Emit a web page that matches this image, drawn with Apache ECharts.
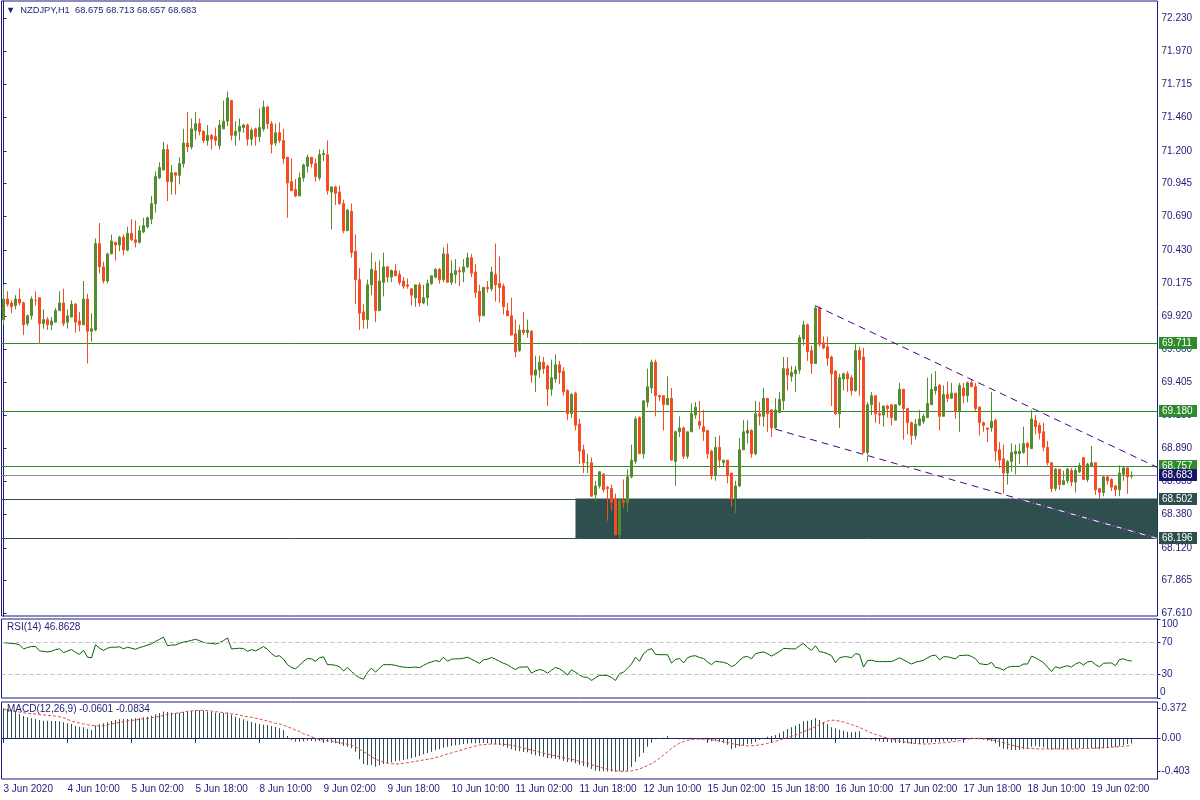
<!DOCTYPE html>
<html><head><meta charset="utf-8">
<script src="https://cdn.jsdelivr.net/npm/echarts@6/dist/echarts.min.js"></script>
<style>html,body{margin:0;padding:0;background:#fff}#c{width:1200px;height:800px}</style>
</head><body><div id="c"></div>
<script>
const symbolName = 'NZDJPY,H1';
const timeLabels = ['3 Jun 2020','4 Jun 10:00','5 Jun 02:00','5 Jun 18:00','8 Jun 10:00','9 Jun 02:00','9 Jun 18:00','10 Jun 10:00','11 Jun 02:00','11 Jun 18:00','12 Jun 10:00','15 Jun 02:00','15 Jun 18:00','16 Jun 10:00','17 Jun 02:00','17 Jun 18:00','18 Jun 10:00','19 Jun 02:00'];
const priceTicks = [72.230,71.970,71.715,71.460,71.200,70.945,70.690,70.430,70.175,69.920,69.660,69.405,69.150,68.890,68.635,68.380,68.120,67.865,67.610];
const rsiTicks = [30,70,100];
const rsiBottomLabel = '0';
const macdTicks = [-0.403,0,0.372];

const openP = [
69.89,70.05,70.02,70.00,70.05,70.02,69.86,69.92,70.04,70.06,
69.86,69.89,69.85,69.87,69.96,70.02,69.87,69.91,70.01,69.88,
69.85,70.05,69.80,69.81,70.48,70.30,70.19,70.40,70.49,70.47,
70.53,70.43,70.56,70.51,70.49,70.57,70.61,70.67,70.79,70.99,
71.05,71.21,70.96,71.03,71.01,71.10,71.26,71.23,71.36,71.41,
71.35,71.28,71.32,71.31,71.24,71.37,71.43,71.59,71.32,71.35,
71.38,71.40,71.29,71.37,71.31,71.37,71.54,71.41,71.26,71.34,
71.28,71.15,70.96,70.90,70.85,70.99,71.08,71.15,71.10,70.99,
71.17,71.17,70.88,70.92,70.88,70.79,70.58,70.73,70.42,70.20,
69.95,69.89,70.16,70.27,69.96,70.18,70.30,70.22,70.27,70.24,
70.19,70.16,70.13,70.06,70.16,70.02,70.06,70.17,70.22,70.28,
70.20,70.40,70.18,70.24,70.27,70.26,70.30,70.37,70.26,70.11,
69.92,70.14,70.13,70.24,70.17,70.15,69.96,69.92,69.78,69.65,
69.81,69.79,69.80,69.46,69.50,69.56,69.53,69.35,69.43,69.54,
69.49,69.34,69.16,69.32,69.08,68.88,68.78,68.78,68.53,68.60,
68.69,68.59,68.58,68.50,68.22,68.49,68.47,68.67,68.79,69.13,
68.85,69.25,69.36,69.56,69.30,69.30,69.23,69.28,68.79,69.02,
69.05,68.83,69.02,69.15,69.10,69.06,69.03,68.87,68.68,68.90,
68.78,68.80,68.70,68.50,68.60,68.88,69.01,69.03,68.85,69.16,
69.14,69.28,69.19,69.05,69.17,69.26,69.51,69.45,69.47,69.50,
69.74,69.85,69.65,69.55,69.98,69.71,69.68,69.60,69.49,69.16,
69.43,69.47,69.44,69.34,69.65,69.60,68.86,69.23,69.30,69.16,
69.15,69.22,69.23,69.11,69.23,69.35,69.20,69.09,68.99,69.07,
69.10,69.13,69.23,69.34,69.38,69.14,69.31,69.28,69.32,69.18,
69.36,69.30,69.40,69.37,69.21,69.09,69.05,69.05,69.11,68.88,
68.81,68.70,68.79,68.85,68.85,68.86,68.93,68.89,69.11,69.07,
69.02,68.90,68.78,68.58,68.73,68.61,68.64,68.72,68.63,68.71,
68.82,68.65,68.75,68.78,68.58,68.55,68.67,68.65,68.60,68.57,
68.69,68.74,68.675];
const highP = [
70.16,70.11,70.04,70.08,70.13,70.03,69.93,70.07,70.11,70.06,
69.97,69.91,69.91,69.98,70.11,70.13,69.97,70.04,70.02,69.95,
70.19,70.09,69.94,70.52,70.64,70.34,70.41,70.55,70.49,70.54,
70.55,70.61,70.67,70.66,70.62,70.68,70.69,70.85,71.04,71.11,
71.27,71.25,71.09,71.03,71.15,71.37,71.50,71.45,71.50,71.45,
71.36,71.40,71.33,71.38,71.44,71.59,71.66,71.59,71.43,71.45,
71.41,71.41,71.38,71.38,71.53,71.59,71.55,71.43,71.41,71.42,
71.37,71.15,71.14,70.98,71.03,71.10,71.17,71.15,71.14,71.21,
71.21,71.28,70.92,70.93,70.93,70.82,70.75,70.79,70.55,70.29,
70.01,70.20,70.41,70.34,70.35,70.41,70.30,70.28,70.32,70.27,
70.22,70.21,70.13,70.16,70.18,70.16,70.20,70.23,70.29,70.29,
70.45,70.48,70.35,70.36,70.30,70.36,70.41,70.40,70.32,70.16,
70.14,70.19,70.30,70.48,70.38,70.17,70.02,70.06,69.89,69.85,
69.95,69.89,69.81,69.61,69.61,69.60,69.54,69.58,69.62,69.57,
69.52,69.35,69.32,69.33,69.12,68.92,68.85,68.82,68.64,68.71,
68.70,68.60,68.61,68.54,68.50,68.65,68.73,68.92,69.14,69.14,
69.26,69.51,69.58,69.58,69.31,69.30,69.45,69.36,69.03,69.14,
69.06,69.02,69.24,69.25,69.26,69.19,69.03,68.88,68.98,68.99,
68.80,68.80,68.70,68.64,68.97,69.11,69.11,69.04,69.26,69.25,
69.36,69.28,69.19,69.28,69.33,69.60,69.60,69.53,69.53,69.77,
69.88,69.86,69.69,70.00,69.99,69.76,69.76,69.61,69.50,69.47,
69.48,69.49,69.46,69.70,69.68,69.67,69.25,69.33,69.30,69.25,
69.22,69.23,69.23,69.23,69.40,69.35,69.20,69.10,69.12,69.19,
69.16,69.44,69.47,69.49,69.39,69.38,69.41,69.40,69.32,69.40,
69.40,69.41,69.43,69.40,69.22,69.10,69.05,69.33,69.12,68.94,
68.92,68.80,68.93,68.92,68.93,69.06,68.94,69.19,69.15,69.09,
69.09,68.95,68.78,68.74,68.73,68.72,68.74,68.74,68.74,68.78,
68.82,68.78,68.91,68.78,68.58,68.68,68.68,68.66,68.61,68.76,
68.75,68.74,68.713];
const lowP = [
69.85,69.99,69.94,69.97,70.00,69.77,69.84,69.89,70.00,69.70,
69.82,69.81,69.81,69.87,69.96,69.84,69.82,69.91,69.79,69.80,
69.85,69.55,69.72,69.80,70.25,70.17,70.17,70.40,70.35,70.42,
70.39,70.42,70.50,70.45,70.48,70.56,70.60,70.63,70.72,70.98,
71.05,70.81,70.86,70.86,70.94,71.07,71.19,71.21,71.29,71.32,
71.26,71.24,71.21,71.24,71.21,71.37,71.39,71.28,71.24,71.28,
71.34,71.24,71.24,71.24,71.27,71.35,71.37,71.18,71.24,71.26,
71.10,70.68,70.89,70.84,70.85,70.96,71.03,71.07,70.96,70.97,
71.12,70.86,70.59,70.78,70.78,70.56,70.58,70.37,70.01,69.81,
69.82,69.82,70.08,69.87,69.96,70.07,70.18,70.18,70.23,70.16,
70.13,70.13,70.00,69.99,69.99,70.01,70.00,70.16,70.21,70.17,
70.18,70.18,70.16,70.17,70.15,70.18,70.29,70.22,70.06,69.87,
69.92,70.10,70.11,70.03,70.02,69.93,69.92,69.77,69.60,69.64,
69.77,69.75,69.40,69.33,69.44,69.47,69.22,69.30,69.40,69.39,
69.30,69.11,69.13,69.03,68.77,68.70,68.70,68.52,68.48,68.58,
68.55,68.33,68.41,68.22,68.19,68.43,68.40,68.66,68.77,68.85,
68.81,69.21,69.32,69.14,69.26,69.03,69.23,68.80,68.60,68.98,
68.81,68.81,69.02,69.12,69.04,68.95,68.81,68.65,68.64,68.74,
68.75,68.62,68.44,68.39,68.59,68.88,68.93,68.82,68.84,69.07,
69.06,69.02,68.98,69.04,69.17,69.19,69.34,69.41,69.33,69.47,
69.69,69.57,69.47,69.55,69.68,69.66,69.53,69.22,69.15,69.05,
69.34,69.33,69.30,69.33,69.30,68.85,68.79,69.15,69.09,69.08,
69.06,69.13,69.07,69.11,69.22,68.96,69.00,68.92,68.96,69.07,
69.08,69.13,69.23,69.31,69.03,69.14,69.25,69.28,69.12,69.02,
69.24,69.25,69.37,69.18,68.99,69.02,68.94,69.02,68.79,68.74,
68.54,68.61,68.71,68.69,68.77,68.85,68.76,68.89,69.00,68.96,
68.87,68.76,68.55,68.56,68.57,68.61,68.62,68.60,68.55,68.70,
68.65,68.63,68.75,68.53,68.50,68.52,68.61,68.56,68.52,68.52,
68.64,68.54,68.657];
const closeP = [
70.05,70.01,69.99,70.05,70.02,69.85,69.92,70.05,70.04,69.86,
69.89,69.85,69.88,69.96,70.02,69.86,69.92,70.01,69.87,69.85,
70.05,69.80,69.82,70.48,70.30,70.19,70.40,70.50,70.47,70.53,
70.43,70.56,70.51,70.49,70.58,70.62,70.68,70.79,71.00,71.07,
71.21,70.96,71.03,71.01,71.10,71.26,71.23,71.37,71.41,71.35,
71.28,71.32,71.29,71.28,71.40,71.43,71.61,71.32,71.35,71.39,
71.40,71.29,71.36,71.31,71.38,71.54,71.41,71.25,71.34,71.28,
71.14,70.95,70.89,70.85,70.99,71.09,71.15,71.10,71.00,71.17,
71.18,70.89,70.92,70.87,70.79,70.58,70.74,70.41,70.20,69.94,
69.89,70.16,70.28,69.96,70.19,70.30,70.22,70.27,70.23,70.18,
70.15,70.15,70.08,70.16,70.02,70.06,70.17,70.23,70.28,70.20,
70.40,70.18,70.25,70.27,70.26,70.30,70.37,70.25,70.10,69.92,
70.14,70.13,70.26,70.16,70.14,69.99,69.92,69.77,69.64,69.81,
69.79,69.81,69.46,69.50,69.56,69.51,69.35,69.44,69.54,69.48,
69.33,69.16,69.31,69.07,68.87,68.78,68.78,68.52,68.60,68.71,
68.57,68.58,68.47,68.22,68.49,68.47,68.67,68.80,69.12,68.85,
69.26,69.37,69.56,69.30,69.29,69.23,69.28,68.80,69.02,69.05,
68.83,69.02,69.16,69.21,69.07,69.02,68.85,68.68,68.90,68.80,
68.80,68.68,68.50,68.60,68.88,69.02,69.03,68.85,69.16,69.14,
69.28,69.16,69.05,69.19,69.27,69.51,69.46,69.48,69.50,69.75,
69.85,69.64,69.55,69.98,69.70,69.67,69.59,69.47,69.16,69.44,
69.47,69.43,69.34,69.65,69.58,68.86,69.23,69.30,69.16,69.15,
69.22,69.20,69.13,69.23,69.35,69.20,69.09,68.99,69.08,69.12,
69.14,69.24,69.35,69.37,69.14,69.31,69.28,69.32,69.18,69.38,
69.30,69.40,69.37,69.20,69.09,69.07,69.04,69.10,68.87,68.80,
68.70,68.79,68.86,68.87,68.87,68.93,68.90,69.12,69.06,69.01,
68.90,68.78,68.58,68.73,68.61,68.64,68.73,68.63,68.72,68.76,
68.65,68.77,68.78,68.57,68.55,68.67,68.64,68.59,68.57,68.70,
68.74,68.67,68.683];

const rsi = [
70.0,69.6,69.1,68.7,67.4,62.2,63.9,65.2,65.2,59.6,
59.1,58.3,59.1,61.3,62.2,57.4,59.6,61.3,57.8,55.2,
60.4,51.7,50.9,67.4,63.0,60.4,63.0,64.3,64.3,64.8,
62.2,64.3,63.0,61.7,63.9,65.2,67.0,68.7,71.7,74.3,
77.0,66.1,67.0,67.0,69.1,70.9,71.7,73.0,74.3,72.6,
70.4,69.6,69.1,68.3,70.0,72.6,76.1,62.2,62.6,63.0,
62.6,59.1,61.3,59.6,62.2,65.2,61.7,56.1,52.6,53.5,
49.1,42.2,38.7,37.0,41.3,46.5,50.0,49.6,46.5,50.9,
52.2,42.2,42.2,41.3,39.6,34.3,38.7,33.5,29.1,25.7,
23.9,32.6,37.8,32.6,37.8,42.2,42.2,42.2,41.3,40.0,
39.1,38.7,38.7,39.1,38.3,41.3,43.9,45.7,47.4,46.1,
51.7,46.5,49.1,49.6,49.6,50.4,51.7,49.1,46.5,43.9,
48.3,49.1,51.3,49.1,46.5,43.9,42.2,38.7,36.1,39.1,
39.1,39.6,31.3,34.3,36.1,34.8,31.3,35.2,38.7,37.0,
33.5,29.1,35.7,32.6,29.1,26.5,26.1,22.2,25.7,28.7,
28.7,28.3,26.1,22.2,30.9,32.6,37.8,43.0,51.7,46.5,
56.1,60.4,62.6,55.2,54.8,54.8,54.8,44.3,48.7,50.0,
44.3,50.9,53.0,53.5,51.3,50.0,45.7,42.2,46.5,45.7,
45.2,43.5,39.6,42.2,47.8,51.7,52.6,49.6,56.1,57.4,
58.3,56.1,53.0,56.1,58.7,62.6,62.6,62.2,62.2,66.1,
69.1,63.9,60.4,66.1,58.7,57.8,56.1,53.5,44.8,50.9,
52.2,52.2,50.9,56.1,55.2,39.1,47.4,47.8,46.5,46.1,
46.1,46.1,46.1,48.3,50.9,48.3,45.7,43.0,45.2,46.5,
47.8,50.9,53.5,54.3,48.3,52.2,52.2,50.9,49.6,53.9,
53.9,54.3,52.6,49.6,43.5,42.6,42.2,45.2,38.7,37.8,
35.2,38.7,40.0,40.0,40.0,43.0,43.0,53.0,50.9,47.8,
44.8,39.1,33.5,39.6,37.8,39.6,40.9,39.1,43.0,45.2,
41.7,45.7,46.5,42.2,39.6,43.9,44.3,44.3,40.9,48.7,
49.6,47.4,46.86];
const rsiLevels = [70, 30];
const rsiValueText = '46.8628';

const macdMain = [
0.372,0.367,0.351,0.326,0.302,0.277,0.261,0.249,0.241,0.228,
0.220,0.220,0.216,0.216,0.212,0.200,0.188,0.180,0.155,0.147,
0.139,0.118,0.106,0.163,0.176,0.188,0.200,0.216,0.228,0.237,
0.241,0.241,0.245,0.249,0.253,0.261,0.269,0.281,0.298,0.314,
0.334,0.326,0.318,0.314,0.318,0.326,0.334,0.343,0.347,0.347,
0.343,0.334,0.326,0.318,0.314,0.314,0.322,0.294,0.269,0.249,
0.237,0.216,0.204,0.192,0.180,0.172,0.167,0.155,0.143,0.127,
0.106,0.033,-0.016,-0.036,-0.036,-0.032,-0.024,-0.028,-0.032,-0.028,
-0.024,-0.040,-0.049,-0.057,-0.069,-0.089,-0.098,-0.118,-0.159,-0.252,
-0.309,-0.322,-0.322,-0.342,-0.326,-0.309,-0.301,-0.289,-0.277,-0.269,
-0.260,-0.248,-0.240,-0.224,-0.212,-0.191,-0.175,-0.159,-0.142,-0.130,
-0.110,-0.098,-0.089,-0.081,-0.073,-0.065,-0.061,-0.057,-0.057,-0.057,
-0.053,-0.057,-0.061,-0.069,-0.077,-0.093,-0.110,-0.130,-0.146,-0.155,
-0.163,-0.167,-0.191,-0.203,-0.212,-0.220,-0.236,-0.240,-0.244,-0.252,
-0.269,-0.285,-0.285,-0.301,-0.318,-0.334,-0.350,-0.371,-0.391,-0.399,
-0.398,-0.400,-0.401,-0.403,-0.398,-0.394,-0.391,-0.342,-0.281,-0.220,
-0.171,-0.098,-0.049,-0.008,0.008,0.013,0.033,0.002,-0.003,-0.006,
-0.010,-0.008,-0.004,0.000,-0.006,-0.004,-0.002,-0.032,-0.024,-0.040,
-0.053,-0.073,-0.126,-0.110,-0.093,-0.081,-0.065,-0.061,-0.040,-0.012,
0.008,0.025,0.033,0.045,0.066,0.090,0.118,0.139,0.159,0.184,
0.212,0.220,0.228,0.249,0.228,0.204,0.180,0.139,0.127,0.110,
0.098,0.086,0.078,0.086,0.090,0.008,0.000,-0.012,-0.024,-0.032,
-0.040,-0.040,-0.049,-0.049,-0.049,-0.057,-0.057,-0.065,-0.065,-0.065,
-0.057,-0.049,-0.045,-0.040,-0.040,-0.032,-0.032,-0.024,-0.016,-0.004,
0.000,0.008,0.013,0.004,-0.008,-0.012,-0.024,-0.032,-0.057,-0.098,
-0.122,-0.130,-0.138,-0.138,-0.138,-0.130,-0.122,-0.098,-0.089,-0.098,
-0.106,-0.122,-0.134,-0.130,-0.130,-0.130,-0.126,-0.122,-0.122,-0.114,
-0.114,-0.114,-0.114,-0.122,-0.126,-0.118,-0.114,-0.106,-0.106,-0.089,
-0.077,-0.065,-0.0601];
const macdSignal = [
0.359,0.351,0.343,0.334,0.326,0.318,0.310,0.306,0.302,0.294,
0.290,0.286,0.281,0.277,0.269,0.257,0.237,0.216,0.204,0.192,
0.180,0.172,0.163,0.159,0.155,0.159,0.167,0.180,0.188,0.200,
0.208,0.216,0.224,0.228,0.237,0.245,0.249,0.257,0.265,0.273,
0.286,0.298,0.306,0.310,0.318,0.326,0.334,0.339,0.343,0.347,
0.347,0.343,0.339,0.330,0.326,0.318,0.310,0.306,0.298,0.290,
0.277,0.269,0.261,0.249,0.241,0.228,0.216,0.204,0.188,0.180,
0.163,0.147,0.127,0.106,0.086,0.061,0.045,0.025,0.004,-0.008,
-0.016,-0.024,-0.032,-0.040,-0.049,-0.057,-0.069,-0.081,-0.098,-0.130,
-0.159,-0.187,-0.220,-0.248,-0.269,-0.285,-0.297,-0.305,-0.309,-0.309,
-0.301,-0.293,-0.285,-0.277,-0.269,-0.260,-0.252,-0.244,-0.232,-0.220,
-0.203,-0.187,-0.175,-0.159,-0.146,-0.130,-0.118,-0.102,-0.089,-0.077,
-0.073,-0.069,-0.065,-0.065,-0.065,-0.069,-0.073,-0.081,-0.089,-0.102,
-0.114,-0.126,-0.138,-0.151,-0.163,-0.175,-0.187,-0.199,-0.212,-0.220,
-0.232,-0.244,-0.252,-0.264,-0.277,-0.289,-0.301,-0.318,-0.334,-0.346,
-0.362,-0.371,-0.383,-0.392,-0.398,-0.401,-0.399,-0.392,-0.383,-0.370,
-0.350,-0.330,-0.305,-0.275,-0.240,-0.200,-0.160,-0.120,-0.085,-0.055,
-0.035,-0.020,-0.010,-0.005,-0.006,-0.008,-0.010,-0.014,-0.020,-0.028,
-0.036,-0.047,-0.058,-0.069,-0.077,-0.083,-0.087,-0.086,-0.082,-0.076,
-0.068,-0.057,-0.045,-0.032,-0.016,0.000,0.013,0.029,0.045,0.066,
0.086,0.106,0.125,0.147,0.172,0.198,0.215,0.226,0.225,0.216,
0.204,0.188,0.172,0.155,0.139,0.115,0.090,0.070,0.053,0.037,
0.021,0.008,-0.006,-0.018,-0.028,-0.038,-0.046,-0.053,-0.058,-0.062,
-0.065,-0.065,-0.062,-0.058,-0.054,-0.050,-0.045,-0.039,-0.032,-0.024,
-0.014,-0.004,0.000,0.003,0.004,0.001,-0.006,-0.014,-0.022,-0.036,
-0.050,-0.064,-0.078,-0.090,-0.100,-0.110,-0.117,-0.121,-0.124,-0.125,
-0.125,-0.124,-0.124,-0.124,-0.125,-0.126,-0.126,-0.126,-0.125,-0.123,
-0.121,-0.119,-0.117,-0.115,-0.113,-0.110,-0.107,-0.104,-0.100,-0.096,
-0.092,-0.088,-0.0834];
const macdValueText = ['-0.0601', '-0.0834'];

const levels = [69.711, 69.180, 68.757, 68.683, 68.502, 68.196];
const zone = [143, 288.5, 68.502, 68.196];           // from bar, to bar, top price, bottom price
const trendUpper = [[203, 69.998], [288.5, 68.743]];
const trendLower = [[193, 69.040], [288.5, 68.192]];

// ---------- styling / layout ----------
const NAVY = '#1c1c78';
const FONT = '"Liberation Sans", Arial, "DejaVu Sans", sans-serif';
const UP = '#558c2d', DOWN = '#f54b23';
const GREEN_LINE = '#2d8a2d', SLATE = '#2f4f4f';
const levelLine = [GREEN_LINE, GREEN_LINE, GREEN_LINE, '#8c8c8c', SLATE, SLATE];
const levelBox = [GREEN_LINE, GREEN_LINE, GREEN_LINE, '#17176a', SLATE, SLATE];
const nSlots = 289;
const cats = Array.from({length: nSlots}, (_, i) => String(i));
const isTick = (idx) => idx % 16 === 0 && idx / 16 < timeLabels.length;
const candles = openP.map((o, i) => [o, closeP[i], lowP[i], highP[i]]);
const last = openP.length - 1;
const border = {show: true, borderColor: NAVY, borderWidth: 1, backgroundColor: '#fff'};
const hidden = {show: false};
const GL = 1.5, GR = 42.5;

const chart = echarts.init(document.getElementById('c'));
const option = {
  animation: false,
  backgroundColor: '#fff',
  grid: [
    Object.assign({left: GL, right: GR, top: 1, height: 615}, border),
    Object.assign({left: GL, right: GR, top: 619, height: 79}, border),
    Object.assign({left: GL, right: GR, top: 702, height: 77}, border)
  ],
  xAxis: [
    {type: 'category', gridIndex: 0, data: cats, show: false},
    {type: 'value', gridIndex: 0, min: -0.5, max: 288.5, show: false},
    {type: 'category', gridIndex: 1, data: cats, show: false},
    {type: 'category', gridIndex: 2, data: cats,
      axisLine: {show: true, lineStyle: {color: NAVY}},
      axisTick: {show: true, interval: isTick, alignWithLabel: true, length: 4, lineStyle: {color: NAVY}},
      axisLabel: {interval: isTick, formatter: (v, idx) => timeLabels[idx / 16], align: 'left',
        color: NAVY, fontSize: 10, fontFamily: FONT, margin: 5},
      splitLine: hidden}
  ],
  yAxis: [
    {type: 'value', gridIndex: 0, position: 'right', min: 67.591, max: 72.362,
      axisLine: {show: true, lineStyle: {color: NAVY}},
      axisTick: {show: true, length: 3, customValues: priceTicks, lineStyle: {color: NAVY}},
      axisLabel: {customValues: priceTicks, formatter: v => v.toFixed(3), color: NAVY, fontSize: 10, fontFamily: FONT, margin: 4,
        showMinLabel: true, showMaxLabel: true},
      splitLine: hidden},
    {type: 'value', gridIndex: 1, position: 'right', min: 0, max: 100,
      axisLine: {show: true, lineStyle: {color: NAVY}},
      axisTick: {show: true, length: 3, customValues: [0].concat(rsiTicks), lineStyle: {color: NAVY}},
      axisLabel: {customValues: rsiTicks, color: NAVY, fontSize: 10, fontFamily: FONT, margin: 4,
        showMaxLabel: true, verticalAlignMaxLabel: 'top'},
      splitLine: hidden},
    {type: 'value', gridIndex: 2, position: 'right', min: -0.493, max: 0.449,
      axisLine: {show: true, lineStyle: {color: NAVY}},
      axisTick: {show: true, length: 3, customValues: macdTicks, lineStyle: {color: NAVY}},
      axisLabel: {customValues: macdTicks, formatter: v => v === 0 ? '0.00' : v.toFixed(3),
        color: NAVY, fontSize: 10, fontFamily: FONT, margin: 4, showMinLabel: true, showMaxLabel: true},
      splitLine: hidden}
  ],
  series: [
    {type: 'custom', xAxisIndex: 1, yAxisIndex: 0, z: 1, silent: true,
      data: [zone], encode: {x: [0, 1], y: [2, 3]},
      renderItem: (p, api) => {
        const a = api.coord([api.value(0), api.value(2)]);
        const b = api.coord([api.value(1), api.value(3)]);
        return {type: 'rect', shape: {x: a[0], y: a[1], width: b[0] - a[0], height: b[1] - a[1]}, style: {fill: SLATE}};
      }},
    {type: 'custom', xAxisIndex: 1, yAxisIndex: 0, z: 2, silent: true,
      data: levels.map(v => [-0.5, v]), encode: {x: 0, y: 1},
      renderItem: (p, api) => {
        const v = api.value(1);
        const a = api.coord([-0.5, v]), b = api.coord([288.5, v]);
        const y = Math.round(a[1]) + 0.5;
        return {type: 'line', shape: {x1: a[0], y1: y, x2: b[0], y2: y}, style: {stroke: levelLine[p.dataIndex], lineWidth: 1}};
      }},
    {type: 'candlestick', xAxisIndex: 0, yAxisIndex: 0, z: 3, barWidth: 2, data: candles,
      itemStyle: {color: UP, color0: DOWN, borderColor: UP, borderColor0: DOWN, borderWidth: 1}},
    {type: 'line', xAxisIndex: 1, yAxisIndex: 0, z: 4, data: trendLower, symbol: 'none', silent: true,
      lineStyle: {color: '#ffffff', width: 1}},
    {type: 'line', xAxisIndex: 1, yAxisIndex: 0, z: 5, data: trendLower, symbol: 'none', silent: true,
      lineStyle: {color: '#4b0082', width: 1, type: [7, 5]}},
    {type: 'line', xAxisIndex: 1, yAxisIndex: 0, z: 5, data: trendUpper, symbol: 'none', silent: true,
      lineStyle: {color: '#4b0082', width: 1, type: [7, 5]}},
    {type: 'custom', xAxisIndex: 1, yAxisIndex: 0, z: 10, silent: true, clip: false,
      data: levels.map(v => [-0.5, v]), encode: {x: 0, y: 1},
      renderItem: (p, api) => {
        const v = api.value(1);
        const b = api.coord([288.5, v]);
        const y = Math.round(b[1]);
        return {type: 'group', children: [
          {type: 'rect', shape: {x: b[0] + 1.5, y: y - 6, width: 38, height: 12}, style: {fill: levelBox[p.dataIndex]}},
          {type: 'text', style: {x: b[0] + 4.5, y: y + 0.5, text: v.toFixed(3), fill: '#ffffff',
            font: '10px ' + FONT, verticalAlign: 'middle', align: 'left'}}
        ]};
      }},
    {type: 'custom', xAxisIndex: 2, yAxisIndex: 1, z: 10, silent: true, clip: false,
      data: [[0, 0]], encode: {x: 0, y: 1},
      renderItem: (p, api) => {
        const pt = api.coord([288, 0]);
        return {type: 'text', style: {x: pt[0] + 4.5, y: pt[1] - 6, text: rsiBottomLabel, fill: NAVY,
          font: '10px ' + FONT, verticalAlign: 'middle', align: 'left'}};
      }},
    {type: 'line', xAxisIndex: 2, yAxisIndex: 1, data: rsi, symbol: 'none', silent: true,
      lineStyle: {color: '#006400', width: 1},
      markLine: {silent: true, symbol: ['none', 'none'], label: {show: false},
        lineStyle: {color: '#c0c0c0', type: [4, 3], width: 1},
        data: rsiLevels.map(v => ({yAxis: v}))}},
    {type: 'bar', xAxisIndex: 3, yAxisIndex: 2, data: macdMain, barWidth: 1, silent: true,
      itemStyle: {color: SLATE}},
    {type: 'line', xAxisIndex: 3, yAxisIndex: 2, data: macdSignal, symbol: 'none', silent: true, z: 4,
      lineStyle: {color: '#e04a3f', width: 1, type: [3, 2]}}
  ],
  graphic: [
    {type: 'text', left: 6, top: 6, z: 20, style: {
      text: '\u25BC  ' + symbolName + '  ' + [openP[last], highP[last], lowP[last], closeP[last]].map(v => v.toFixed(3)).join(' '),
      fill: NAVY, font: '9.3px ' + FONT}},
    {type: 'text', left: 7, top: 622, z: 20, style: {text: 'RSI(14) ' + rsiValueText, fill: NAVY, font: '10px ' + FONT}},
    {type: 'text', left: 7, top: 704, z: 20, style: {text: 'MACD(12,26,9) ' + macdValueText.join(' '), fill: NAVY, font: '10px ' + FONT}}
  ]
};
chart.setOption(option);
</script>
</body></html>
